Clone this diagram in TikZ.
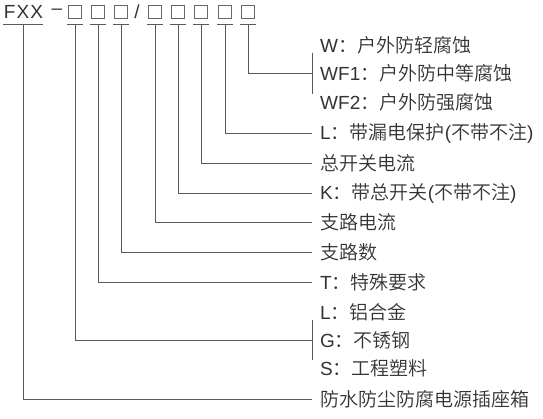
\documentclass[tikz,border=0pt]{standalone}
\usepackage{fontspec}
\setmainfont{Liberation Sans}
\newfontfamily\cjk{Noto Sans CJK SC}[UprightFont={* DemiLight}]
\usetikzlibrary{positioning}

\begin{document}
\begin{tikzpicture}[
  x=1pt, y=-1pt,
  every node/.style={text=black!80, font=\fontsize{19pt}{19pt}\selectfont},
  code_box/.style={draw=black!60, line width=0.6pt, minimum width=13pt, minimum height=13pt, inner sep=0pt},
  label/.style={anchor=west, inner xsep=8pt, inner ysep=1pt},
  line/.style={draw=black!65, line width=0.8pt}
]
\useasboundingbox (0,0) rectangle (543,419);

% Code
\node[inner sep=0pt] (fxx) at (23,11.5) {\addfontfeature{LetterSpace=6}FXX\kern-1pt};
\node[inner sep=0pt] (dash) at (57,11.5) {–};
\node[code_box] (b1) at (75,11.5) {};
\node[code_box] (b2) at (98,11.5) {};
\node[code_box] (b3) at (121,11.5) {};
\node[inner sep=0pt] (slash) at (137,11.5) {/};
\node[code_box] (b4) at (155,11.5) {};
\node[code_box] (b5) at (178,11.5) {};
\node[code_box] (b6) at (201,11.5) {};
\node[code_box] (b7) at (225,11.5) {};
\node[code_box] (b8) at (248,11.5) {};

% Labels
\node[label] (w) at (312,45) {W\cjk：户外防轻腐蚀};
\node[label] (wf1) at (312,73) {WF1\cjk：户外防中等腐蚀};
\node[label] (wf2) at (312,102) {WF2\cjk：户外防强腐蚀};
\node[label] (leak) at (312,133) {L{\cjk：带漏电保护}({\cjk 不带不注})};
\node[label] (mainamp) at (312,163) {\cjk 总开关电流};
\node[label] (mainsw) at (312,193) {K{\cjk：带总开关}({\cjk 不带不注})};
\node[label] (branchamp) at (312,222) {\cjk 支路电流};
\node[label] (branchnum) at (312,252) {\cjk 支路数};
\node[label] (special) at (312,282) {T\cjk：特殊要求};
\node[label] (al) at (312,312) {L\cjk：铝合金};
\node[label] (ss) at (312,340) {G\cjk：不锈钢};
\node[label] (pl) at (312,368) {S\cjk：工程塑料};
\node[label] (box) at (312,399) {\cjk 防水防尘防腐电源插座箱};

% Underlines
\draw[line] ([xshift=-20pt,yshift=-6pt]fxx.south) -- ([xshift=20pt,yshift=-6pt]fxx.south);
\draw[line] ([xshift=-8pt,yshift=-6pt]b1.south) -- ([xshift=8pt,yshift=-6pt]b1.south);
\draw[line] ([xshift=-8pt,yshift=-6pt]b2.south) -- ([xshift=8pt,yshift=-6pt]b2.south);
\draw[line] ([xshift=-8pt,yshift=-6pt]b3.south) -- ([xshift=8pt,yshift=-6pt]b3.south);
\draw[line] ([xshift=-8pt,yshift=-6pt]b4.south) -- ([xshift=8pt,yshift=-6pt]b4.south);
\draw[line] ([xshift=-8pt,yshift=-6pt]b5.south) -- ([xshift=8pt,yshift=-6pt]b5.south);
\draw[line] ([xshift=-8pt,yshift=-6pt]b6.south) -- ([xshift=8pt,yshift=-6pt]b6.south);
\draw[line] ([xshift=-8pt,yshift=-6pt]b7.south) -- ([xshift=8pt,yshift=-6pt]b7.south);
\draw[line] ([xshift=-8pt,yshift=-6pt]b8.south) -- ([xshift=8pt,yshift=-6pt]b8.south);

% Brackets
\draw[line] ([yshift=-8pt]w.west) -- ([yshift=8pt]wf2.west);
\draw[line] ([yshift=-8pt]al.west) -- ([yshift=8pt]pl.west);

% Connections
\draw[line] ([yshift=-6pt]b8.south) |- (wf1.west);
\draw[line] ([yshift=-6pt]b7.south) |- (leak.west);
\draw[line] ([yshift=-6pt]b6.south) |- (mainamp.west);
\draw[line] ([yshift=-6pt]b5.south) |- (mainsw.west);
\draw[line] ([yshift=-6pt]b4.south) |- (branchamp.west);
\draw[line] ([yshift=-6pt]b3.south) |- (branchnum.west);
\draw[line] ([yshift=-6pt]b2.south) |- (special.west);
\draw[line] ([yshift=-6pt]b1.south) |- (ss.west);
\draw[line] ([yshift=-6pt]fxx.south) |- (box.west);

\end{tikzpicture}
\end{document}
